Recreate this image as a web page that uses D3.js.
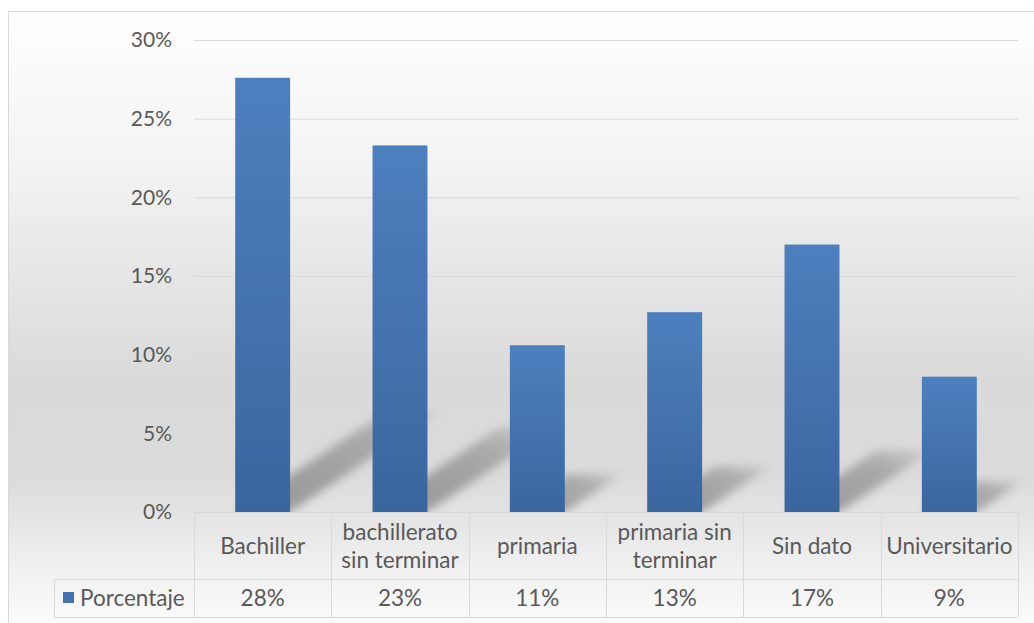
<!DOCTYPE html>
<html>
<head>
<meta charset="utf-8">
<script src="https://cdn.jsdelivr.net/npm/d3@7"></script>
<style>
  html, body { margin: 0; padding: 0; background: #ffffff; }
  svg { display: block; }
  text { font-family: Lato, "Noto Sans", sans-serif; fill: #595959; }
</style>
</head>
<body>
<svg id="chart" width="1034" height="623"></svg>
<script>
// Nivel educativo: porcentaje por categoría
const categories = ["Bachiller", "bachillerato sin terminar", "primaria", "primaria sin terminar", "Sin dato", "Universitario"];
const seriesName = "Porcentaje";
const values = [0.276, 0.233, 0.106, 0.127, 0.170, 0.086];
const yTicks = [0, 0.05, 0.10, 0.15, 0.20, 0.25, 0.30];

const W = 1034, H = 623;
const plot = { left: 194, right: 1018, top: 40, bottom: 512 };
const table = { legendLeft: 54, rowSplit: 579, bottom: 617 };
const tickFont = 21;
const tableFont = 22.5;

const svg = d3.select("#chart");
const defs = svg.append("defs");

// Chart-area background: white at the top, grey behind the bar bases, lighter again under the table
const bg = defs.append("linearGradient")
  .attr("id", "bgGrad").attr("gradientUnits", "userSpaceOnUse")
  .attr("x1", 0).attr("y1", 11).attr("x2", 0).attr("y2", 623);
[[0, "#ffffff"], [0.25, "#f3f3f3"], [0.6, "#dadada"], [0.76, "#dbdbdb"], [0.88, "#ececec"], [1, "#fbfbfb"]]
  .forEach(([o, c]) => bg.append("stop").attr("offset", o).attr("stop-color", c));

// Bar fill: lighter blue at the top, deeper at the base
const barGrad = defs.append("linearGradient")
  .attr("id", "barGrad").attr("x1", 0).attr("y1", 0).attr("x2", 0).attr("y2", 1);
barGrad.append("stop").attr("offset", 0).attr("stop-color", "#4d80bf");
barGrad.append("stop").attr("offset", 1).attr("stop-color", "#3a669f");

// Perspective shadow: darker near the base, fading towards the tip
const shGrad = defs.append("linearGradient")
  .attr("id", "shadowGrad").attr("x1", 0).attr("y1", 1).attr("x2", 1).attr("y2", 0);
shGrad.append("stop").attr("offset", 0).attr("stop-color", "#000").attr("stop-opacity", 0.34);
shGrad.append("stop").attr("offset", 0.7).attr("stop-color", "#000").attr("stop-opacity", 0.22);
shGrad.append("stop").attr("offset", 1).attr("stop-color", "#000").attr("stop-opacity", 0.05);

defs.append("filter").attr("id", "shadowBlur")
  .attr("x", "-20%").attr("y", "-20%").attr("width", "140%").attr("height", "140%")
  .append("feGaussianBlur").attr("stdDeviation", 5);

defs.append("clipPath").attr("id", "plotClip")
  .append("rect").attr("x", plot.left).attr("y", 0)
  .attr("width", W - plot.left).attr("height", plot.bottom);

// Frame and background
svg.append("rect")
  .attr("x", 8.5).attr("y", 11.5).attr("width", 1040).attr("height", 620)
  .attr("fill", "url(#bgGrad)").attr("stroke", "#d9d9d9").attr("stroke-width", 1);

// Scales
const x = d3.scaleBand()
  .domain(categories)
  .range([plot.left, plot.right])
  .paddingInner(0.6)
  .paddingOuter(0.3);

const y = d3.scaleLinear().domain([0, 0.30]).range([plot.bottom, plot.top]);
const pct = d3.format(".0%");

// Gridlines + tick labels via a left axis
const yAxis = d3.axisLeft(y).tickValues(yTicks).tickFormat(pct)
  .tickSize(-(plot.right - plot.left)).tickPadding(22);
const gy = svg.append("g")
  .attr("transform", `translate(${plot.left},0)`)
  .call(yAxis);
gy.select(".domain").remove();
gy.selectAll(".tick line").attr("stroke", "#d9d9d9").attr("stroke-width", 1);
gy.selectAll(".tick text")
  .attr("font-size", tickFont).attr("fill", "#595959")
  .style("font-family", "Lato, 'Noto Sans', sans-serif");

// Shadows
const kx = 0.345, ky = 0.23;
const shadows = svg.append("g").attr("clip-path", "url(#plotClip)");
shadows.selectAll("polygon")
  .data(categories)
  .join("polygon")
  .attr("points", (c, i) => {
    const x0 = x(c), x1 = x(c) + x.bandwidth();
    const h = y(0) - y(values[i]);
    const b = y(0);
    return [[x0, b], [x1, b], [x1 + kx * h, b - ky * h], [x0 + kx * h, b - ky * h]]
      .map(p => p.join(",")).join(" ");
  })
  .attr("fill", "url(#shadowGrad)")
  .attr("filter", "url(#shadowBlur)");

// Bars
svg.append("g").selectAll("rect")
  .data(categories)
  .join("rect")
  .attr("x", c => x(c))
  .attr("y", (c, i) => y(values[i]))
  .attr("width", x.bandwidth())
  .attr("height", (c, i) => y(0) - y(values[i]))
  .attr("fill", "url(#barGrad)");

// Data table
const step = x.step();
const cellLeft = c => x(c) - step * x.paddingOuter();
const grid = svg.append("g").attr("stroke", "#d9d9d9").attr("stroke-width", 1).attr("fill", "none");

// top border (category axis)
grid.append("line").attr("x1", plot.left).attr("x2", plot.right)
  .attr("y1", plot.bottom + 0.5).attr("y2", plot.bottom + 0.5);
// row split and bottom border, extended under the legend cell
grid.append("line").attr("x1", table.legendLeft).attr("x2", plot.right)
  .attr("y1", table.rowSplit + 0.5).attr("y2", table.rowSplit + 0.5);
grid.append("line").attr("x1", table.legendLeft).attr("x2", plot.right)
  .attr("y1", table.bottom + 0.5).attr("y2", table.bottom + 0.5);
// legend cell left edge
grid.append("line").attr("x1", table.legendLeft + 0.5).attr("x2", table.legendLeft + 0.5)
  .attr("y1", table.rowSplit).attr("y2", table.bottom);
// column separators
const seps = categories.map(cellLeft).concat([plot.right]);
grid.selectAll("line.sep")
  .data(seps)
  .join("line").attr("class", "sep")
  .attr("x1", d => Math.round(d) + 0.5).attr("x2", d => Math.round(d) + 0.5)
  .attr("y1", plot.bottom).attr("y2", table.bottom);

// Category labels, wrapped to the cell width
const catG = svg.append("g");
const maxW = step - 8;
const lineH = 28;
const headMid = (plot.bottom + table.rowSplit) / 2;
categories.forEach(c => {
  const cx = x(c) + x.bandwidth() / 2;
  const t = catG.append("text")
    .attr("text-anchor", "middle")
    .attr("font-size", tableFont);
  const words = c.split(" ");
  const lines = [];
  let cur = "";
  const probe = catG.append("text").attr("font-size", tableFont);
  words.forEach(w => {
    const trial = cur ? cur + " " + w : w;
    probe.text(trial);
    if (cur && probe.node().getComputedTextLength() > maxW) {
      lines.push(cur);
      cur = w;
    } else {
      cur = trial;
    }
  });
  lines.push(cur);
  probe.remove();
  const firstBase = headMid + 8 - (lines.length - 1) * lineH / 2;
  lines.forEach((ln, k) => {
    t.append("tspan").attr("x", cx).attr("y", firstBase + k * lineH).text(ln);
  });
});

// Value row
const valMid = (table.rowSplit + table.bottom) / 2;
svg.append("g").selectAll("text")
  .data(categories)
  .join("text")
  .attr("x", c => x(c) + x.bandwidth() / 2)
  .attr("y", valMid + 8)
  .attr("text-anchor", "middle")
  .attr("font-size", tableFont)
  .text((c, i) => pct(values[i]));

// Legend key in the table
svg.append("rect")
  .attr("x", 63).attr("y", valMid - 6)
  .attr("width", 11).attr("height", 11)
  .attr("fill", "#4272b0");
svg.append("text")
  .attr("x", 80).attr("y", valMid + 8)
  .attr("font-size", tableFont)
  .text(seriesName);
</script>
</body>
</html>
